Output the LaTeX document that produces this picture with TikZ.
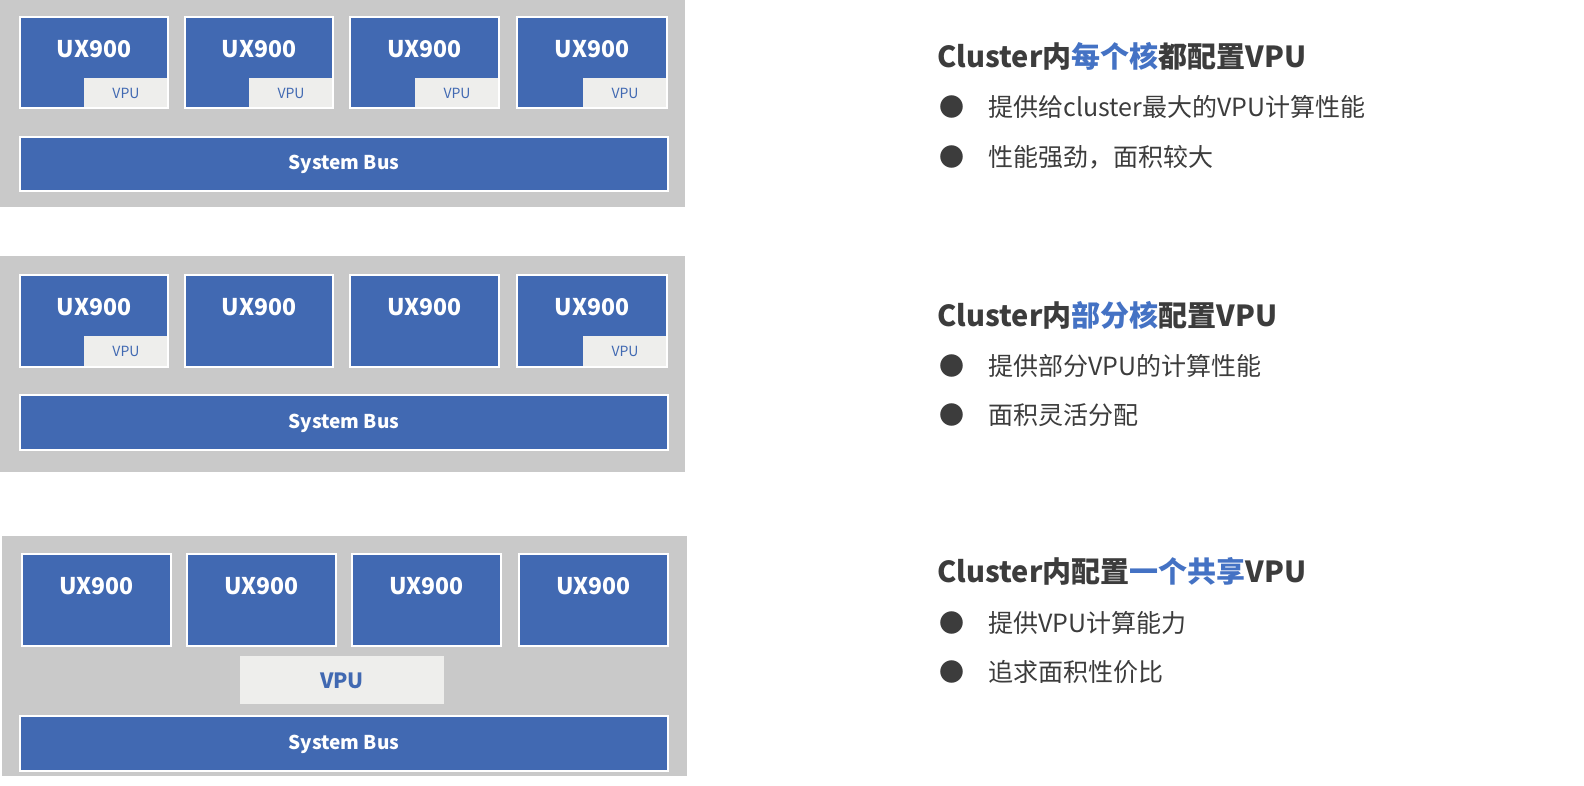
\documentclass[tikz,border=0pt]{standalone}
\usepackage{fontspec}
\setmainfont{Noto Sans CJK SC}
\begin{document}
\begin{tikzpicture}[x=1pt,y=-1pt,
  panel/.style={fill=panelgray,draw=none},
  core/.style={fill=ublue,draw=white,line width=1.2pt},
  vpu/.style={fill=vgray,draw=none},
  lbl/.style={text=white,font=\fontsize{23}{26}\selectfont\bfseries},
  vlbl/.style={text=ublue,font=\fontsize{14}{16}\selectfont},
  title/.style={anchor=west,text=tgray,font=\fontsize{29}{32}\selectfont\bfseries},
  item/.style={anchor=west,text=tgray,font=\fontsize{25}{28}\selectfont}]
\definecolor{panelgray}{HTML}{C9C9C9}
\definecolor{ublue}{HTML}{4169B2}
\definecolor{vgray}{HTML}{EEEEEC}
\definecolor{tgray}{HTML}{3C3C3C}
\definecolor{hblue}{HTML}{4472C4}
\useasboundingbox[fill=white] (0,0) rectangle (1584,785);
% panel 1
\fill[panelgray] (0,0) rectangle (685,207);
\foreach \a/\b [count=\i] in {20/168,185/333,350/499,517/667}{
  \draw[core] (\a,17) rectangle (\b,108);
  \node[lbl] (p1c\i) at ({(\a+\b)/2},49) {UX900};
  \fill[vgray] (\b-84,78) rectangle (\b-0.6,107.4);
  \node[vlbl] (p1v\i) at (\b-42,93) {VPU};
}
\draw[core] (20,137) rectangle (668,191);
\node[lbl,font=\fontsize{19}{22}\selectfont\bfseries] (bus1) at (344,164) {System Bus};
% panel 2
\fill[panelgray] (0,256) rectangle (685,472);
\foreach \a/\b [count=\i] in {20/168,185/333,350/499,517/667}{
  \draw[core] (\a,275) rectangle (\b,367);
  \node[lbl] (p2c\i) at ({(\a+\b)/2},307) {UX900};
}
\foreach \b [count=\i] in {168,667}{
  \fill[vgray] (\b-84,336) rectangle (\b-0.6,366.4);
  \node[vlbl] (p2v\i) at (\b-42,351) {VPU};
}
\draw[core] (20,395) rectangle (668,450);
\node[lbl,font=\fontsize{19}{22}\selectfont\bfseries] (bus2) at (344,423) {System Bus};
% panel 3
\fill[panelgray] (2,536) rectangle (687,776);
\foreach \a/\b [count=\i] in {22/171,187/336,352/501,519/668}{
  \draw[core] (\a,554) rectangle (\b,646);
  \node[lbl] (p3c\i) at ({(\a+\b)/2},586) {UX900};
}
\fill[vgray] (240,656) rectangle (444,704);
\node[vlbl,font=\fontsize{21}{24}\selectfont\bfseries] (p3v) at (342,681) {VPU};
\draw[core] (20,716) rectangle (668,771);
\node[lbl,font=\fontsize{19}{22}\selectfont\bfseries] (bus3) at (344,744) {System Bus};
% texts
\node[title] (t1) at (934,56) {Cluster内\textcolor{hblue}{每个核}都配置VPU};
\node[item] (b11) at (936,107) {●\hspace{24pt}提供给cluster最大的VPU计算性能};
\node[item] (b12) at (936,157) {●\hspace{24pt}性能强劲，面积较大};
\node[title] (t2) at (934,315) {Cluster内\textcolor{hblue}{部分核}配置VPU};
\node[item] (b21) at (936,366) {●\hspace{24pt}提供部分VPU的计算性能};
\node[item] (b22) at (936,415) {●\hspace{24pt}面积灵活分配};
\node[title] (t3) at (934,571) {Cluster内配置\textcolor{hblue}{一个共享}VPU};
\node[item] (b31) at (936,623) {●\hspace{24pt}提供VPU计算能力};
\node[item] (b32) at (936,672) {●\hspace{24pt}追求面积性价比};
\end{tikzpicture}
\end{document}
